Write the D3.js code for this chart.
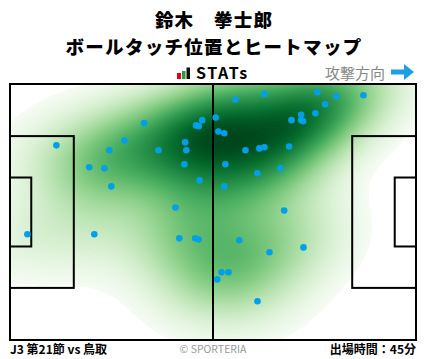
<!DOCTYPE html>
<html><head><meta charset="utf-8">
<script src="https://cdn.jsdelivr.net/npm/d3@7"></script>
<style>
html,body{margin:0;padding:0;background:#fff;}
svg{display:block;}
text{font-family:"Noto Sans CJK JP","Noto Sans",sans-serif;}
</style></head>
<body><svg id="c" width="428" height="359"></svg>
<script>
// ball touch positions in pitch metres (105 x 68), attacking to the right
const touchX = [12.0,34.7,49.7,48.1,48.8,53.2,29.6,25.7,38.4,45.3,45.6,45.1,20.5,24.4,49.0,26.2,42.8,
  58.3,65.8,79.5,84.4,91.4,81.5,79.0,75.3,75.8,75.3,72.8,53.9,55.4,60.9,64.5,65.8,72.2,55.7,64.0,69.9,55.4,70.9,
  4.5,21.8,43.8,47.9,48.8,59.3,67.1,75.9,54.7,56.5,53.6,64.0];
const touchY = [16.3,10.4,9.6,11.0,11.2,8.9,15.0,17.6,17.6,15.5,17.6,21.3,22.1,22.4,25.6,27.2,32.8,
  4.1,2.7,2.2,3.3,3.0,5.4,7.8,8.2,9.9,9.6,9.6,12.6,13.1,17.6,17.1,16.8,16.6,21.3,23.7,22.4,27.2,33.6,
  39.9,39.9,41.0,41.0,41.3,41.5,44.7,43.4,50.0,50.0,51.9,57.7];
const titleLines = ["鈴木　拳士郎","ボールタッチ位置とヒートマップ"];
const matchLabel = "J3 第21節 vs 鳥取";
const minutesLabel = "出場時間：45分";
const pitchLen = 105, pitchWid = 68;

const svg = d3.select("#c");
const x = d3.scaleLinear().domain([0,pitchLen]).range([10,416]);
const y = d3.scaleLinear().domain([0,pitchWid]).range([84,340]);

// ---- Gaussian KDE (Scott's rule, full covariance) ----
const bwAdjust = 1.05, threshProp = 0.018, gamma = 0.75;
const n = touchX.length;
const mx = d3.mean(touchX), my = d3.mean(touchY);
let sxx=0,syy=0,sxy=0;
for(let i=0;i<n;i++){const dx=touchX[i]-mx,dy=touchY[i]-my;sxx+=dx*dx;syy+=dy*dy;sxy+=dx*dy;}
sxx/=(n-1);syy/=(n-1);sxy/=(n-1);
const f = Math.pow(n,-1/6)*bwAdjust, f2=f*f;
const cxx=sxx*f2, cyy=syy*f2, cxy=sxy*f2;
const det = cxx*cyy-cxy*cxy;
const ixx=cyy/det, iyy=cxx/det, ixy=-cxy/det;
function dens(px,py){let s=0;for(let i=0;i<n;i++){const dx=px-touchX[i],dy=py-touchY[i];s+=Math.exp(-0.5*(ixx*dx*dx+2*ixy*dx*dy+iyy*dy*dy));}return s;}

const ext=[];let tot=0;
for(let gx=-40;gx<=145;gx+=1.5)for(let gy=-40;gy<=108;gy+=1.5){const d=dens(gx,gy);ext.push(d);tot+=d;}
ext.sort((a,b)=>a-b);
let acc=0,thr=0;for(const d of ext){acc+=d;if(acc>=threshProp*tot){thr=d;break;}}
const W=406,H=256;
const cv=document.createElement("canvas");cv.width=W;cv.height=H;
const ctx=cv.getContext("2d");const img=ctx.createImageData(W,H);
const vals=new Float32Array(W*H);let dmax=0;
for(let j=0;j<H;j++)for(let i=0;i<W;i++){const v=dens(x.invert(10+i+0.5),y.invert(84+j+0.5));vals[j*W+i]=v;if(v>dmax)dmax=v;}
for(let k=0;k<W*H;k++){
  const v=vals[k];let r=255,g=255,b=255;
  if(v>=thr){const c=d3.rgb(d3.interpolateGreens(Math.pow((v-thr)/(dmax-thr),gamma)));r=c.r;g=c.g;b=c.b;}
  img.data[k*4]=r;img.data[k*4+1]=g;img.data[k*4+2]=b;img.data[k*4+3]=255;
}
ctx.putImageData(img,0,0);
svg.append("image").attr("x",x(0)).attr("y",y(0)).attr("width",W).attr("height",H)
  .attr("href",cv.toDataURL());

// ---- pitch lines ----
const lines=svg.append("g").attr("fill","none").attr("stroke","#000").attr("stroke-width",2);
lines.append("rect").attr("x",x(0)).attr("y",y(0)).attr("width",x(pitchLen)-x(0)).attr("height",y(pitchWid)-y(0));
lines.append("line").attr("x1",x(pitchLen/2)).attr("x2",x(pitchLen/2)).attr("y1",y(0)).attr("y2",y(pitchWid));
const pbW=40.32, gaW=18.32;
[[0,16.5],[pitchLen-16.5,16.5]].forEach(([x0,dep])=>{
  lines.append("rect").attr("x",x(x0)).attr("y",y(pitchWid/2-pbW/2)).attr("width",x(dep)-x(0)).attr("height",y(pitchWid/2+pbW/2)-y(pitchWid/2-pbW/2));
});
[[0,5.5],[pitchLen-5.5,5.5]].forEach(([x0,dep])=>{
  lines.append("rect").attr("x",x(x0)).attr("y",y(pitchWid/2-gaW/2)).attr("width",x(dep)-x(0)).attr("height",y(pitchWid/2+gaW/2)-y(pitchWid/2-gaW/2));
});

// ---- touches ----
svg.append("g").selectAll("circle").data(d3.range(n)).join("circle")
  .attr("cx",i=>x(touchX[i])).attr("cy",i=>y(touchY[i])).attr("r",3.3).attr("fill","#00a0e9");

// ---- header ----
svg.append("text").attr("x",214).attr("y",27).attr("text-anchor","middle").attr("font-size",18.5).attr("letter-spacing",1.2).attr("font-weight",900).text(titleLines[0]);
svg.append("text").attr("x",214).attr("y",54).attr("text-anchor","middle").attr("font-size",18.5).attr("letter-spacing",1.3).attr("font-weight",900).text(titleLines[1]);
// STATs logo
const lg=svg.append("g");
lg.append("rect").attr("x",177).attr("y",73).attr("width",4).attr("height",6).attr("fill","#e60012");
lg.append("rect").attr("x",182).attr("y",71).attr("width",3.5).attr("height",8).attr("fill","#2a9d3a");
lg.append("rect").attr("x",186.5).attr("y",67.5).attr("width",3.5).attr("height",11.5).attr("fill","#111");
lg.append("text").attr("x",196).attr("y",79).attr("font-size",16).attr("font-weight","bold").attr("font-family","'DejaVu Sans', sans-serif").attr("letter-spacing",1.6).text("STATs");
svg.append("text").attr("x",385).attr("y",78.5).attr("text-anchor","end").attr("font-size",15).attr("fill","#888").text("攻撃方向");
svg.append("path").attr("d","M391,69.5 H404 V64 L414,72 L404,80 V74.5 H391 Z").attr("fill","#1ba0e2");

// ---- footer ----
svg.append("text").attr("x",10).attr("y",354).attr("font-size",12).attr("font-weight","bold").text(matchLabel);
svg.append("text").attr("x",213).attr("y",353).attr("text-anchor","middle").attr("font-size",10.5).attr("fill","#999").text("© SPORTERIA");
svg.append("text").attr("x",416).attr("y",354).attr("text-anchor","end").attr("font-size",12).attr("font-weight","bold").text(minutesLabel);
</script></body></html>
